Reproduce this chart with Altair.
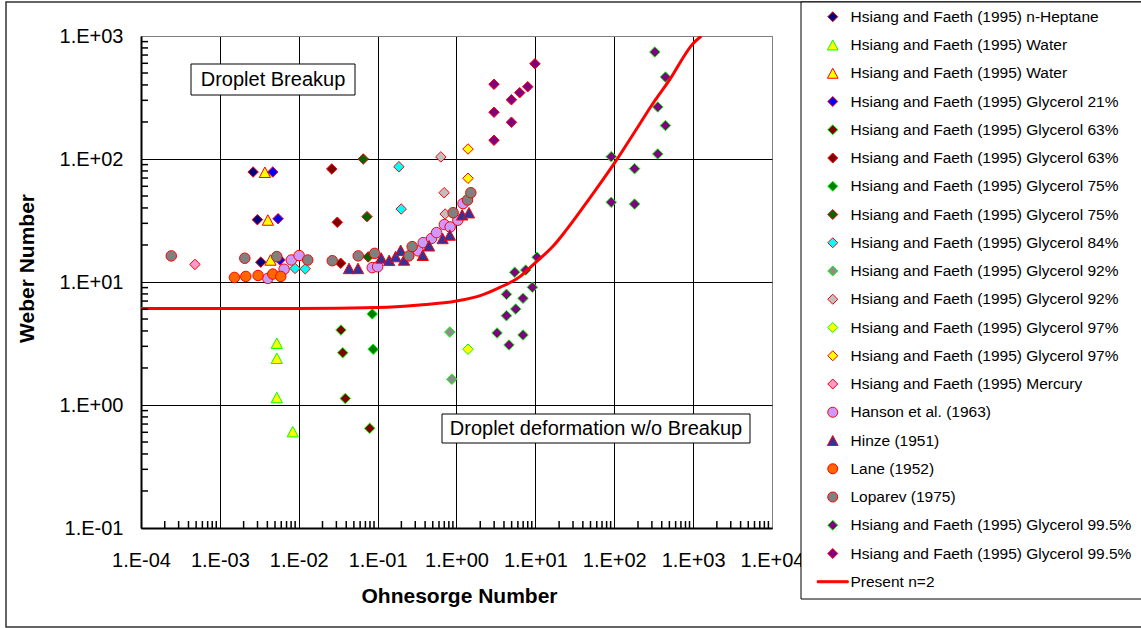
import json
import altair as alt
import pandas as pd

FONT = "Liberation Sans"

# ---------------- data ----------------
NAMES = [
    "Hsiang and Faeth (1995) n-Heptane",
    "Hsiang and Faeth (1995) Water",
    "Hsiang and Faeth (1995) Water",
    "Hsiang and Faeth (1995) Glycerol 21%",
    "Hsiang and Faeth (1995) Glycerol 63%",
    "Hsiang and Faeth (1995) Glycerol 63%",
    "Hsiang and Faeth (1995) Glycerol 75%",
    "Hsiang and Faeth (1995) Glycerol 75%",
    "Hsiang and Faeth (1995) Glycerol 84%",
    "Hsiang and Faeth (1995) Glycerol 92%",
    "Hsiang and Faeth (1995) Glycerol 92%",
    "Hsiang and Faeth (1995) Glycerol 97%",
    "Hsiang and Faeth (1995) Glycerol 97%",
    "Hsiang and Faeth (1995) Mercury",
    "Hanson et al. (1963)",
    "Hinze (1951)",
    "Lane (1952)",
    "Loparev (1975)",
    "Hsiang and Faeth (1995) Glycerol 99.5%",
    "Hsiang and Faeth (1995) Glycerol 99.5%",
    "Present n=2",
]

HEPTANE_OH = [2.64e-3, 2.99e-3, 3.30e-3]
HEPTANE_WE = [78.4, 32.1, 14.5]
WATER_NB_OH = [5.27e-3, 5.27e-3, 5.27e-3, 8.4e-3]
WATER_NB_WE = [3.18, 2.40, 1.15, 0.607]
WATER_B_OH = [3.72e-3, 4.06e-3, 4.38e-3]
WATER_B_WE = [78.0, 31.9, 15.1]
G21_OH = [4.69e-3, 5.47e-3, 5.79e-3]
G21_WE = [78.4, 32.7, 15.1]
G63_NB_OH = [0.0343, 0.0361, 0.0389, 0.0793]
G63_NB_WE = [4.07, 2.66, 1.13, 0.646]
G63_B_OH = [0.0262, 0.0308, 0.0340]
G63_B_WE = [83.0, 30.6, 14.2]
G75_NB_OH = [0.0855, 0.0879]
G75_NB_WE = [5.5, 2.84]
G75_B_OH = [0.0658, 0.0733, 0.0760]
G75_B_WE = [100.0, 34.0, 16.0]
G84_OH = [0.186, 0.199, 8.97e-3, 0.0121]
G84_WE = [86.5, 39.2, 12.9, 12.8]
G92_NB_OH = [0.822, 0.873]
G92_NB_WE = [3.92, 1.62]
G92_B_OH = [0.633, 0.697, 0.718]
G92_B_WE = [104.0, 53.2, 35.7]
G97_NB_OH = [1.40]
G97_NB_WE = [2.84]
G97_B_OH = [1.40, 1.40]
G97_B_WE = [120.6, 69.7]
MERCURY_OH = [4.83e-4]
MERCURY_WE = [13.9]
HANSON_OH = [4.06e-3, 6.52e-3, 8.05e-3, 0.0101, 0.0855, 0.100, 0.327, 0.378,
             0.483, 0.559, 0.702, 0.830, 1.04, 1.21]
HANSON_WE = [10.7, 12.7, 15.1, 16.4, 13.1, 13.3, 17.9, 20.9,
             22.6, 25.2, 29.3, 28.0, 31.8, 43.4]
HINZE_OH = [0.0434, 0.0564, 0.111, 0.140, 0.169, 0.196, 0.216, 0.374,
            0.449, 0.667, 0.822, 1.18, 1.44]
HINZE_WE = [12.9, 12.9, 15.7, 15.0, 16.1, 18.1, 15.1, 16.5,
            19.7, 22.6, 24.1, 35.2, 36.6]
LANE_OH = [1.53e-3, 2.13e-3, 3.05e-3, 4.69e-3, 5.92e-3]
LANE_WE = [10.9, 11.1, 11.3, 11.6, 11.1]
LOPAREV_OH = [2.42e-4, 2.07e-3, 5.27e-3, 0.0130, 0.0266, 0.0568, 0.0917,
              0.249, 0.274, 0.906, 1.38, 1.52]
LOPAREV_WE = [16.3, 15.6, 16.1, 15.1, 14.9, 16.3, 17.1,
              16.3, 19.4, 36.6, 46.4, 53.2]
G995_NB_OH = [327, 446, 356, 446, 356, 91.6, 181, 91.6, 181, 10.5, 5.47, 7.54,
              9.16, 4.30, 6.97, 5.63, 4.30, 3.27, 6.97, 4.63]
G995_NB_WE = [741, 464, 265, 187, 110, 104.5, 83.4, 44.5, 43.0, 15.9, 12.0, 12.5,
              9.06, 7.94, 7.36, 6.03, 5.32, 3.85, 3.71, 3.08]
G995_B_OH = [9.88, 2.99, 4.97, 6.33, 8.0, 2.99, 4.97, 2.99]
G995_B_WE = [595, 405, 303, 346, 387, 240, 199, 142]

CURVE_OH = [1e-4, 1e-3, 1e-2, 0.1, 0.34, 1, 2, 3.5, 6.3, 9.8, 16.7, 24.7, 50, 100,
            200, 300, 500, 1000, 1270]
CURVE_WE = [6.1, 6.1, 6.1, 6.2, 6.5, 7.0, 7.75, 9.0, 11.0, 14.2, 19.5, 26.5, 49, 92,
            183, 275, 438, 870, 1000]

X_TICKS = [1e-4, 1e-3, 1e-2, 1e-1, 1, 10, 100, 1000, 10000]
Y_TICKS = [0.1, 1, 10, 100, 1000]
# minor tick positions (2..9 within each decade)
X_MINOR = [k * 10.0 ** e for e in range(-4, 4) for k in range(2, 10)]
Y_MINOR = [k * 10.0 ** e for e in range(-1, 3) for k in range(2, 10)]

# ---------------- styles ----------------
LIME = "#00FF00"
RED = "#FF0000"
FILLS = ["#000080", "#FFFF00", "#FFFF00", "#0000FF", "#800000", "#800000",
         "#008000", "#006600", "#00FFFF", "#8C8C8C", "#C0C0C0", "#FFFF00",
         "#FFFF00", "#FF99CC", "#CC99FF", "#333399", "#FF6600", "#808080",
         "#800080", "#800080", RED]
STROKES = [RED, LIME, RED, RED, LIME, RED, LIME, RED, RED, LIME, RED, LIME,
           RED, RED, RED, RED, RED, RED, LIME, RED, RED]
TRI = "M0,-1L1.07,1L-1.07,1Z"
LINE_SYM = "M-3.1,-0.2L3.1,-0.2L3.1,0.2L-3.1,0.2Z"
SHAPES = ["diamond", TRI, TRI, "diamond", "diamond", "diamond", "diamond",
          "diamond", "diamond", "diamond", "diamond", "diamond", "diamond",
          "diamond", "circle", TRI, "circle", "circle", "diamond", "diamond",
          LINE_SYM]

SERIES = [
    (HEPTANE_OH, HEPTANE_WE), (WATER_NB_OH, WATER_NB_WE), (WATER_B_OH, WATER_B_WE),
    (G21_OH, G21_WE), (G63_NB_OH, G63_NB_WE), (G63_B_OH, G63_B_WE),
    (G75_NB_OH, G75_NB_WE), (G75_B_OH, G75_B_WE), (G84_OH, G84_WE),
    (G92_NB_OH, G92_NB_WE), (G92_B_OH, G92_B_WE), (G97_NB_OH, G97_NB_WE),
    (G97_B_OH, G97_B_WE), (MERCURY_OH, MERCURY_WE), (HANSON_OH, HANSON_WE),
    (HINZE_OH, HINZE_WE), (LANE_OH, LANE_WE), (LOPAREV_OH, LOPAREV_WE),
    (G995_NB_OH, G995_NB_WE), (G995_B_OH, G995_B_WE),
]

SIDS = [f"s{i:02d}" for i in range(len(NAMES))]
rows = []
for i, (ohs, wes) in enumerate(SERIES):
    for a, b in zip(ohs, wes):
        rows.append({"sid": SIDS[i], "oh": a, "we": b})
df = pd.DataFrame(rows)
curve_df = pd.DataFrame({"oh": CURVE_OH, "we": CURVE_WE})
xminor_df = pd.DataFrame({"xm": X_MINOR})
yminor_df = pd.DataFrame({"ym": Y_MINOR})

W, H = 631, 492
LEFT, TOP = 141, 36

xscale = alt.Scale(type="log", domain=[1e-4, 1e4], nice=False)
yscale = alt.Scale(type="log", domain=[0.1, 1000], nice=False)

exp_label = ("'1.E' + (round(log(datum.value)/LN10) < 0 ? '-' : '+') + '0' + "
             "abs(round(log(datum.value)/LN10))")

x_axis = alt.Axis(
    orient="bottom", values=X_TICKS, grid=True,
    gridColor={"condition": {"test": "datum.value >= 5000", "value": "#808080"}, "value": "#000000"},
    gridWidth=1, ticks=False, domainColor="#000000", domainWidth=2,
    labelExpr=exp_label, labelFont=FONT, labelFontSize=20, labelColor="#000000",
    labelPadding=22, labelFlush=False, labelOverlap=False,
    title="Ohnesorge Number", titleFont=FONT, titleFontSize=21, titleFontWeight="bold",
    titleColor="#000000", titleX=318, titleY=74, titleBaseline="alphabetic",
)
y_axis = alt.Axis(
    orient="left", values=Y_TICKS, grid=True,
    gridColor={"condition": {"test": "datum.value >= 500", "value": "#808080"}, "value": "#000000"},
    gridWidth=1, ticks=False, domainColor="#000000", domainWidth=2,
    labelExpr=exp_label, labelFont=FONT, labelFontSize=20, labelColor="#000000",
    labelPadding=18, labelFlush=False, labelOverlap=False,
    title="Weber Number", titleFont=FONT, titleFontSize=21, titleFontWeight="bold",
    titleColor="#000000", titleX=-108, titleY=232, titleBaseline="alphabetic",
)

names_js = "[" + ",".join(json.dumps(n) for n in NAMES) + "]"
leg = alt.Legend(
    orient="none", legendX=684, legendY=-27, title=None, direction="vertical",
    labelExpr=names_js + "[toNumber(substring(datum.label, 1))]",
    labelFont=FONT, labelFontSize=15.5, labelColor="#000000", labelLimit=400,
    symbolSize=100, symbolStrokeWidth=1, symbolOpacity=1,
    rowPadding=11.25, labelOffset=10, padding=0,
)

# inward minor ticks on the bottom and left axes
xminor = alt.Chart(xminor_df).mark_rule(color="#000000", strokeWidth=1.5).encode(
    x=alt.X("xm:Q", scale=xscale, axis=None),
    y=alt.value(H - 7),
    y2=alt.value(H),
)
yminor = alt.Chart(yminor_df).mark_rule(color="#000000", strokeWidth=1.5).encode(
    y=alt.Y("ym:Q", scale=yscale, axis=None),
    x=alt.value(0),
    x2=alt.value(7),
)

points = alt.Chart(df).mark_point(filled=True, opacity=1, strokeWidth=1, size=110).encode(
    x=alt.X("oh:Q", scale=xscale, axis=x_axis),
    y=alt.Y("we:Q", scale=yscale, axis=y_axis),
    fill=alt.Fill("sid:N", scale=alt.Scale(domain=SIDS, range=FILLS), legend=leg),
    stroke=alt.Stroke("sid:N", scale=alt.Scale(domain=SIDS, range=STROKES), legend=leg),
    shape=alt.Shape("sid:N", scale=alt.Scale(domain=SIDS, range=SHAPES), legend=leg),
)

line = alt.Chart(curve_df).mark_line(color=RED, strokeWidth=3, interpolate="monotone",
                                     clip=True).encode(
    x=alt.X("oh:Q", scale=xscale, axis=None),
    y=alt.Y("we:Q", scale=yscale, axis=None),
)

one = pd.DataFrame({"a": [0]})


def box(x1, x2, y1, y2, fill="#FFFFFF", fill_opacity=1.0, stroke="#000000", sw=1.0):
    return alt.Chart(one).mark_rect(fill=fill, fillOpacity=fill_opacity, stroke=stroke,
                                    strokeWidth=sw).encode(
        x=alt.value(x1 - LEFT), x2=alt.value(x2 - LEFT),
        y=alt.value(y1 - TOP), y2=alt.value(y2 - TOP))


def label(text, cx, cy):
    return alt.Chart(one).mark_text(text=text, font=FONT, fontSize=20, color="#000000",
                                    align="center", baseline="middle").encode(
        x=alt.value(cx - LEFT), y=alt.value(cy - TOP))


layers = [
    points,
    line,
    xminor,
    yminor,
    box(191, 355, 64, 95), label("Droplet Breakup", 273, 80),
    box(442, 750, 414, 443), label("Droplet deformation w/o Breakup", 596, 429),
    box(6, 1150, 2, 627, fill_opacity=0.0, stroke="#333333", sw=1.5),
    box(801, 1150, 2, 599),
]

chart = alt.layer(*layers).resolve_axis(x="independent", y="independent").properties(
    width=W, height=H,
    autosize=alt.AutoSizeParams(type="none"),
    padding={"left": LEFT, "top": TOP, "right": 1141 - LEFT - W, "bottom": 628 - TOP - H},
    background="#FFFFFF",
).configure_view(stroke="#808080", strokeWidth=1)

chart.save("out.html", embed_options={"renderer": "svg", "actions": False})
